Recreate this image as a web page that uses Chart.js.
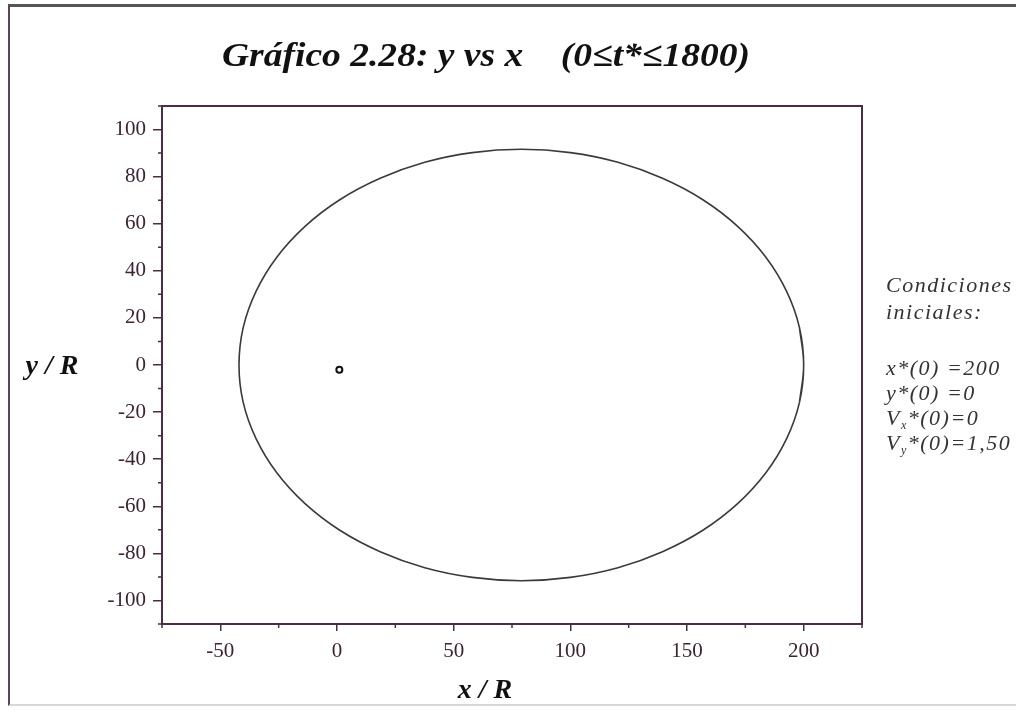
<!DOCTYPE html>
<html>
<head>
<meta charset="utf-8">
<script src="https://cdn.jsdelivr.net/npm/chart.js@4/dist/chart.umd.min.js"></script>
<style>
html, body { margin: 0; padding: 0; background: #fff; }
#wrap { position: relative; width: 1016px; height: 720px; overflow: hidden; }
#frame { position: absolute; left: 8px; top: 4px; width: 1010px; height: 702px;
  border-left: 2px solid #5a4456; border-top: 3px solid #555; border-bottom: 2px solid #d8d8d8; box-sizing: border-box; }
canvas { position: absolute; left: 0; top: 0; }
</style>
</head>
<body>
<div id="wrap"><div id="frame"></div><canvas id="chart" width="1016" height="720"></canvas></div>
<script>
// orbit (x / R, y / R); the first and last points overlap so the loop closes smoothly
const orbitX = [198.2, 200, 198.2, 192.7, 183.8, 171.7, 156.8, 139.5, 120.4, 100.0, 79, 58.0, 37.6, 18.5, 1.2, -13.7,
                -25.8, -34.7, -40.2, -42, -40.2, -34.7, -25.8, -13.7, 1.2, 18.5, 37.6, 58.0, 79, 100.0, 120.4,
                139.5, 156.8, 171.7, 183.8, 192.7, 198.2, 200, 198.2];
const orbitY = [-15.9, 0, 15.9, 31.3, 45.8, 58.9, 70.2, 79.3, 86.1, 90.2, 91.6, 90.2, 86.1, 79.3, 70.2, 58.9,
                45.8, 31.3, 15.9, 0, -15.9, -31.3, -45.8, -58.9, -70.2, -79.3, -86.1, -90.2, -91.6, -90.2, -86.1,
                -79.3, -70.2, -58.9, -45.8, -31.3, -15.9, 0, 15.9];
const centreX = [1];
const centreY = [-2];

const xTicks = [-50, 0, 50, 100, 150, 200];
const yTicks = [-100, -80, -60, -40, -20, 0, 20, 40, 60, 80, 100];
const xMinor = [-75, -25, 25, 75, 125, 175, 225];
const yMinor = [-110, -90, -70, -50, -30, -10, 10, 30, 50, 70, 90, 110];

const titleText = 'Gráfico 2.28: y vs x    (0≤t*≤1800)';
const condLines = ['Condiciones', 'iniciales:'];
const initLines = [
  ['x', '', '*(0) =200'],
  ['y', '', '*(0) =0'],
  ['V', 'x', '*(0)=0'],
  ['V', 'y', '*(0)=1,50']
];

const axisColor = '#4b2d45';
const labelColor = '#3d2333';
const serif = '"Liberation Serif", "Times New Roman", serif';

const orbit = orbitX.map((x, i) => ({ x: x, y: orbitY[i] }));
const centre = centreX.map((x, i) => ({ x: x, y: centreY[i] }));

const extras = {
  id: 'extras',
  afterDraw(chart) {
    const ctx = chart.ctx;
    const a = chart.chartArea;
    const xs = chart.scales.x, ys = chart.scales.y;
    ctx.save();
    // plot box
    ctx.strokeStyle = axisColor;
    ctx.lineWidth = 2;
    ctx.strokeRect(a.left, a.top, a.right - a.left, a.bottom - a.top);
    // minor ticks
    ctx.lineWidth = 1.5;
    ctx.beginPath();
    yMinor.forEach(v => {
      const p = ys.getPixelForValue(v);
      ctx.moveTo(a.left - 4, p); ctx.lineTo(a.left, p);
    });
    xMinor.forEach(v => {
      const p = xs.getPixelForValue(v);
      ctx.moveTo(p, a.bottom); ctx.lineTo(p, a.bottom + 4);
    });
    ctx.stroke();

    // title, squeezed to the width it has in the picture
    ctx.fillStyle = '#111';
    ctx.font = 'bold italic 34px ' + serif;
    ctx.textBaseline = 'middle';
    ctx.textAlign = 'left';
    const w = ctx.measureText(titleText).width;
    const sx = 528 / w;
    ctx.save();
    ctx.translate(222, 57);
    ctx.scale(sx, 1);
    ctx.fillText(titleText, 0, 0);
    ctx.restore();

    // axis names
    ctx.textAlign = 'center';
    ctx.font = 'bold italic 28px ' + serif;
    ctx.fillText('y / R', 52, 367);
    ctx.fillText('x / R', 485, 691);

    // initial conditions
    ctx.fillStyle = '#333';
    ctx.textAlign = 'left';
    ctx.font = 'italic 22px ' + serif;
    ctx.letterSpacing = '1.5px';
    ctx.fillText(condLines[0], 886, 286);
    ctx.fillText(condLines[1], 886, 313);
    const rows = [369, 394, 419, 444];
    initLines.forEach((ln, i) => {
      let x = 886;
      ctx.font = 'italic 22px ' + serif;
      ctx.fillText(ln[0], x, rows[i]);
      x += ctx.measureText(ln[0]).width;
      if (ln[1]) {
        ctx.font = 'italic 12px ' + serif;
        ctx.fillText(ln[1], x, rows[i] + 7);
        x += ctx.measureText(ln[1]).width;
        ctx.font = 'italic 22px ' + serif;
      }
      ctx.fillText(ln[2], x, rows[i]);
    });
    ctx.restore();
  }
};

new Chart(document.getElementById('chart'), {
  type: 'scatter',
  data: {
    datasets: [{
      label: 'orbita',
      data: orbit,
      showLine: true,
      tension: 0.4,
      borderColor: '#3a3a3a',
      borderWidth: 1.6,
      pointRadius: 0,
      fill: false
    }, {
      label: 'centro',
      data: centre,
      pointRadius: 3,
      pointBorderWidth: 2,
      pointBorderColor: '#111',
      pointBackgroundColor: '#fff'
    }]
  },
  options: {
    responsive: false,
    animation: false,
    devicePixelRatio: 1,
    layout: { padding: { top: 106, right: 154, left: 0, bottom: 0 } },
    plugins: { legend: { display: false }, tooltip: { enabled: false }, title: { display: false } },
    scales: {
      x: {
        type: 'linear',
        min: -75,
        max: 225,
        afterBuildTicks: s => { s.ticks = xTicks.map(v => ({ value: v })); },
        afterFit: s => { s.height = 96; },
        grid: { drawOnChartArea: false, drawTicks: true, tickLength: 7, color: axisColor, lineWidth: 1.5 },
        border: { display: true, color: axisColor, width: 2 },
        ticks: { color: labelColor, padding: 8, font: { family: serif, size: 21 }, maxRotation: 0 }
      },
      y: {
        type: 'linear',
        min: -110,
        max: 110,
        afterBuildTicks: s => { s.ticks = yTicks.map(v => ({ value: v })); },
        afterFit: s => { s.width = 162; },
        grid: { drawOnChartArea: false, drawTicks: true, tickLength: 9, color: axisColor, lineWidth: 1.5 },
        border: { display: true, color: axisColor, width: 2 },
        ticks: { color: labelColor, padding: 7, font: { family: serif, size: 21 } }
      }
    }
  },
  plugins: [extras]
});
</script>
</body>
</html>
